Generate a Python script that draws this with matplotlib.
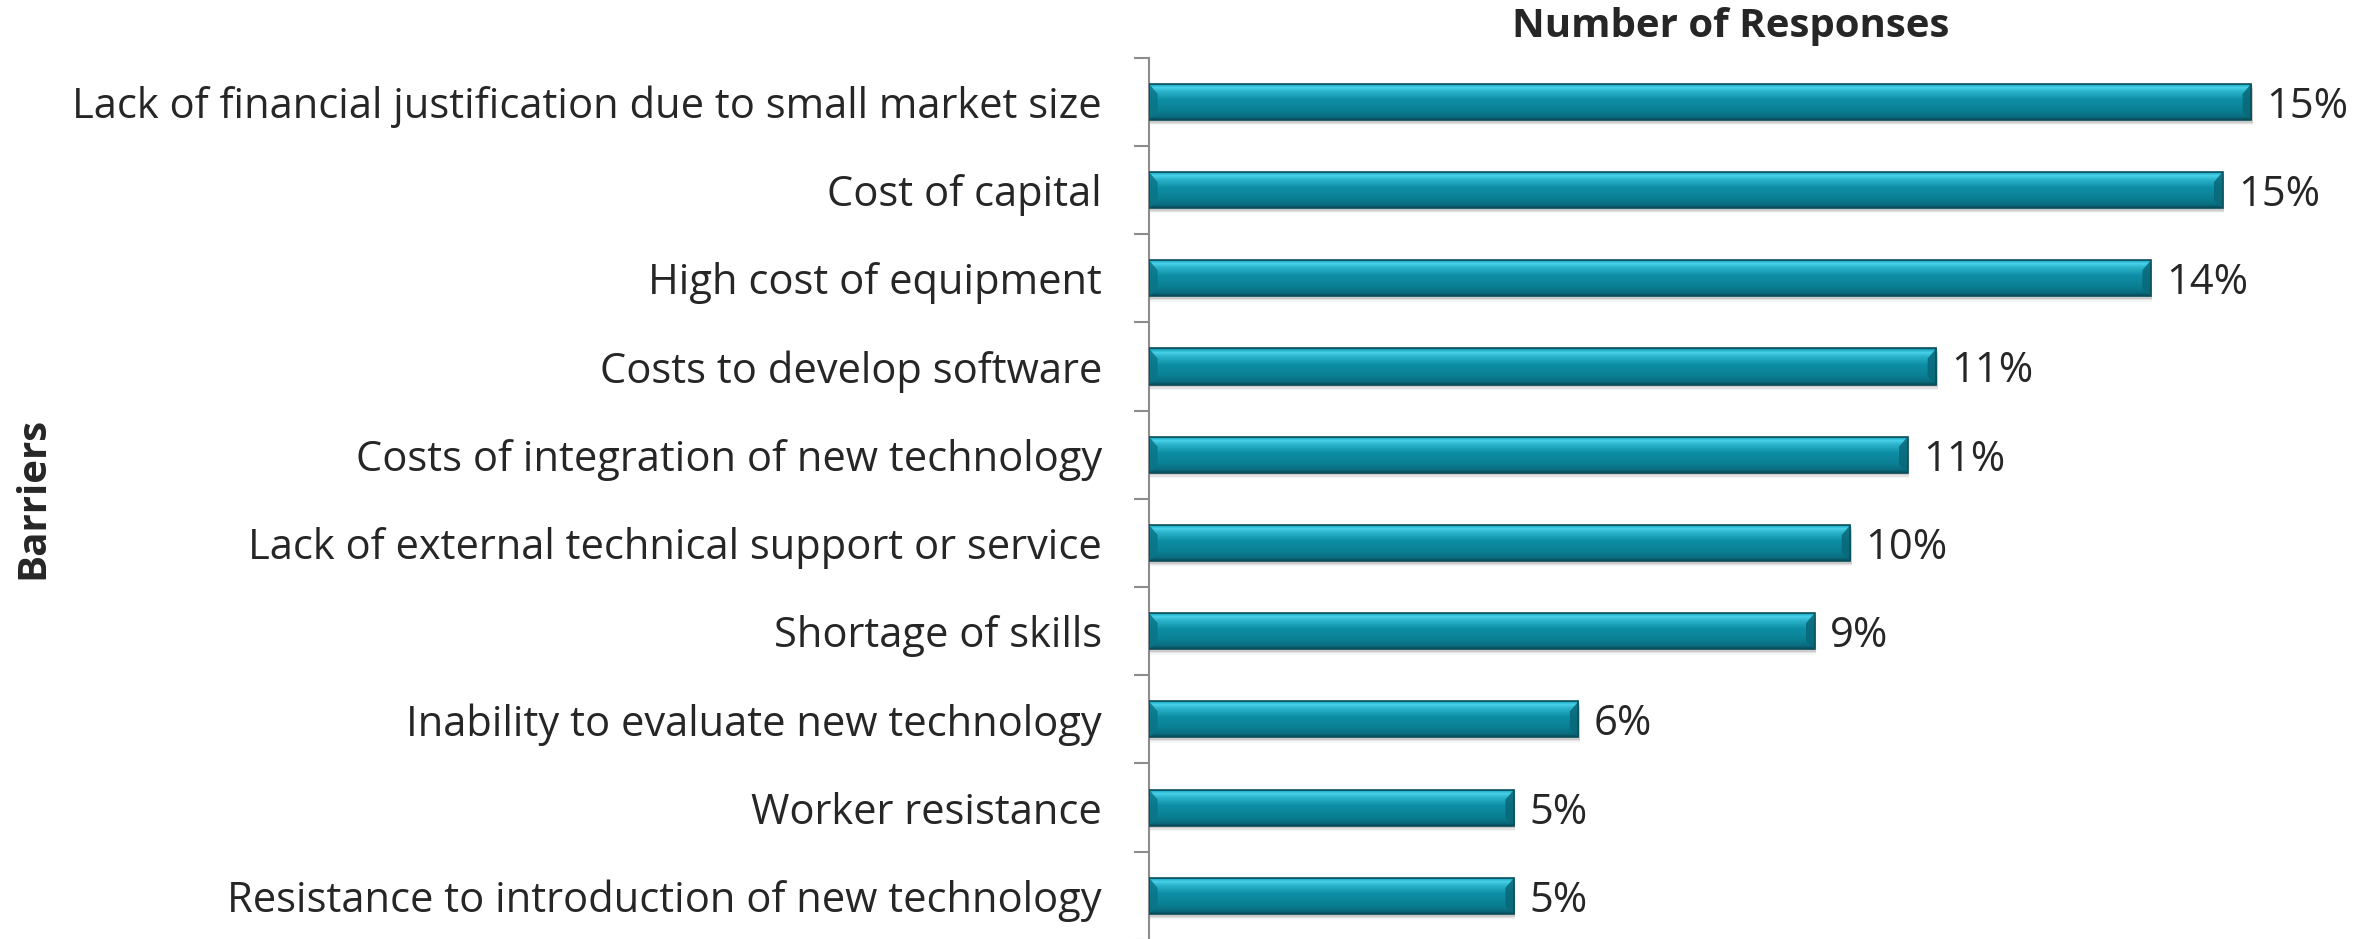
import numpy as np
import matplotlib
matplotlib.use("Agg")
import matplotlib.pyplot as plt
from matplotlib.colors import to_rgb

categories = [
    "Lack of financial justification due to small market size",
    "Cost of capital",
    "High cost of equipment",
    "Costs to develop software",
    "Costs of integration of new technology",
    "Lack of external technical support or service",
    "Shortage of skills",
    "Inability to evaluate new technology",
    "Worker resistance",
    "Resistance to introduction of new technology",
]
values = [15.4, 15.0, 14.0, 11.0, 10.6, 9.8, 9.3, 6.0, 5.1, 5.1]
value_labels = ["15%", "15%", "14%", "11%", "11%", "10%", "9%", "6%", "5%", "5%"]
title = "Number of Responses"
ylabel = "Barriers"

plt.rcParams['font.family'] = ['Open Sans', 'DejaVu Sans']

W, H, DPI = 2366, 939, 100
fig = plt.figure(figsize=(W / DPI, H / DPI), dpi=DPI)
ax = fig.add_axes([1149 / W, -0.001, 1163 / W, 0.9396])

pos = np.arange(len(categories))
bar_h = 0.41
bars = ax.barh(pos, values, height=bar_h, color='#0b8aa0', edgecolor='none', zorder=3)

# shadows
for b in bars:
    x0, y0, w, h = b.get_x(), b.get_y(), b.get_width(), b.get_height()
    for k, a in enumerate([0.10, 0.07, 0.04]):
        ax.barh(y0 + h / 2 + 0.03 + 0.015 * k, w + 0.02, left=x0, height=h,
                color='#000000', alpha=a, edgecolor='none', zorder=2)

# gradient fill
stops = [(0.00, '#0c5f6e'), (0.04, '#1aa8c0'), (0.12, '#4ad2ea'), (0.22, '#2bb4cc'),
         (0.45, '#0d8ea5'), (0.75, '#0b7f94'), (0.93, '#096a7b'), (1.00, '#06414b')]
n = 200
t = np.linspace(0, 1, n)
sp = [s[0] for s in stops]
cols = np.array([to_rgb(s[1]) for s in stops])
grad = np.stack([np.interp(t, sp, cols[:, c]) for c in range(3)], axis=-1)[:, None, :]
grad = np.repeat(grad, 2, axis=1)

for b in bars:
    x0, y0, w, h = b.get_x(), b.get_y(), b.get_width(), b.get_height()
    im = ax.imshow(grad, extent=(x0, x0 + w, y0 + h, y0), origin='upper',
                   aspect='auto', zorder=4, interpolation='bilinear')
    im.set_clip_path(b)
    bev = 0.12
    ax.fill([x0, x0 + bev, x0 + bev, x0], [y0, y0 + h * 0.28, y0 + h * 0.78, y0 + h],
            color='#0a7587', alpha=0.85, zorder=5, lw=0)
    ax.fill([x0 + w, x0 + w - bev, x0 + w - bev, x0 + w], [y0, y0 + h * 0.28, y0 + h * 0.78, y0 + h],
            color='#086878', alpha=0.85, zorder=5, lw=0)
    ax.add_patch(plt.Rectangle((x0, y0), w, h, fill=False, edgecolor='#0a4f5c', lw=1.2, zorder=6))

for b, lab in zip(bars, value_labels):
    ax.annotate(lab, (b.get_width(), b.get_y() + b.get_height() / 2), xytext=(11, 0),
                textcoords='offset points', va='center_baseline', ha='left', fontsize=30,
                color='#262626')

ax.set_xlim(0, 16.25)
ax.set_ylim(len(categories) - 0.5, -0.5)
ax.set_yticks(pos)
ax.set_yticklabels(categories, fontsize=30, color='#262626')
ax.tick_params(axis='y', which='major', length=0, pad=34)
ax.set_yticks(np.arange(len(categories) + 1) - 0.5, minor=True)
ax.tick_params(axis='y', which='minor', length=11, width=1.5, color='#8c8c8c')
ax.set_xticks([])
for s in ['top', 'right', 'bottom']:
    ax.spines[s].set_visible(False)
ax.spines['left'].set_color('#8c8c8c')
ax.spines['left'].set_linewidth(1.5)

fig.text(1731 / W, 1 - 27 / H, title, ha='center', va='center', fontsize=29,
         fontweight='bold', color='#262626')
fig.text(33 / W, 1 - 498 / H, ylabel, ha='center', va='center', rotation=90,
         fontsize=29, fontweight='bold', color='#262626')

fig.savefig('out.png', dpi=DPI)
